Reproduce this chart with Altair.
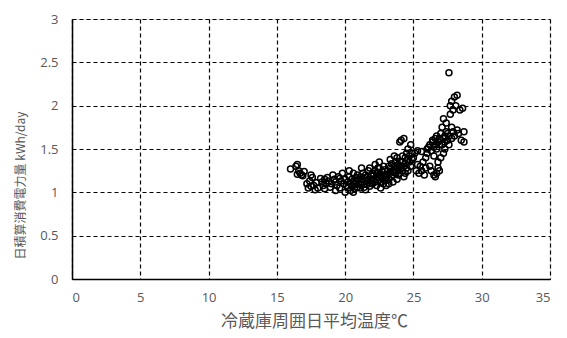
import altair as alt
import pandas as pd

temp = [
    16.0, 16.4, 16.5, 16.6, 16.7, 16.5, 16.8, 16.9, 17.0,
    17.2, 17.3, 17.4, 17.5, 17.6, 17.7, 17.8, 17.9, 17.5, 18.0,
    18.2, 18.3, 18.4, 18.5, 18.6, 18.7, 18.8, 18.9, 18.5, 19.0,
    19.1, 19.2, 19.3, 19.4, 19.5, 19.6, 19.7, 19.8, 19.9, 19.3, 19.6, 20.0,
    20.0, 20.1, 20.2, 20.2, 20.3, 20.4, 20.4, 20.5, 20.5, 20.6, 20.6, 20.7, 20.7, 20.8, 20.8, 20.9, 20.9, 21.0, 21.0, 20.3, 20.6,
    21.1, 21.1, 21.2, 21.2, 21.3, 21.3, 21.4, 21.4, 21.5, 21.5, 21.6, 21.6, 21.7, 21.7, 21.8, 21.8, 21.9, 21.9, 22.0, 22.0, 21.5, 21.2, 21.8,
    22.1, 22.1, 22.2, 22.2, 22.3, 22.3, 22.4, 22.4, 22.5, 22.5, 22.6, 22.6, 22.7, 22.7, 22.8, 22.8, 22.9, 22.9, 23.0, 23.0, 22.5, 22.2, 22.6, 23.0, 22.4, 22.8,
    23.1, 23.1, 23.2, 23.2, 23.3, 23.3, 23.4, 23.4, 23.5, 23.5, 23.6, 23.6, 23.7, 23.7, 23.8, 23.8, 23.9, 23.9, 24.0, 24.0, 23.5, 23.2, 23.8, 23.6, 23.9, 24.0, 23.3,
    24.1, 24.1, 24.2, 24.2, 24.3, 24.3, 24.4, 24.4, 24.5, 24.5, 24.6, 24.6, 24.7, 24.7, 24.8, 24.8, 24.9, 24.9, 25.0, 24.4, 24.6, 24.2, 24.0, 24.3,
    25.1, 25.2, 25.3, 25.4, 25.5, 25.6, 25.7, 25.8, 25.9, 26.0, 25.3, 25.6, 26.0, 25.9,
    26.1, 26.2, 26.2, 26.3, 26.3, 26.4, 26.4, 26.5, 26.5, 26.6, 26.6, 26.7, 26.7, 26.8, 26.8, 26.9, 26.9, 27.0, 27.0, 26.6, 26.7, 26.8, 26.5, 27.0, 26.9,
    27.1, 27.1, 27.2, 27.2, 27.3, 27.3, 27.4, 27.4, 27.5, 27.5, 27.6, 27.6, 27.7, 27.7, 27.8, 27.8, 27.9, 27.9, 28.0, 28.0, 27.3, 27.6, 27.8, 27.2,
    28.1, 28.2, 28.2, 28.3, 28.4, 28.5, 28.6, 28.7, 28.7,
]

energy = [
    1.27, 1.30, 1.32, 1.25, 1.22, 1.21, 1.20, 1.19, 1.24,
    1.10, 1.05, 1.13, 1.20, 1.17, 1.08, 1.03, 1.11, 1.07, 1.05,
    1.16, 1.12, 1.08, 1.15, 1.10, 1.17, 1.13, 1.06, 1.04, 1.10,
    1.20, 1.15, 1.12, 1.08, 1.18, 1.05, 1.13, 1.22, 1.10, 1.02, 1.16, 1.15,
    1.00, 1.08, 1.12, 1.05, 1.18, 1.10, 1.02, 1.15, 1.07, 1.22, 1.12, 1.04, 1.09, 1.17, 1.13, 1.06, 1.20, 1.10, 1.15, 1.25, 1.00,
    1.05, 1.18, 1.12, 1.08, 1.22, 1.15, 1.10, 1.06, 1.17, 1.20, 1.13, 1.09, 1.25, 1.15, 1.11, 1.07, 1.19, 1.14, 1.22, 1.10, 1.03, 1.28, 1.28,
    1.15, 1.20, 1.12, 1.25, 1.18, 1.08, 1.22, 1.14, 1.28, 1.17, 1.20, 1.11, 1.24, 1.16, 1.30, 1.19, 1.13, 1.26, 1.21, 1.17, 1.35, 1.32, 1.05, 1.08, 1.28, 1.10,
    1.25, 1.20, 1.15, 1.30, 1.22, 1.28, 1.18, 1.33, 1.24, 1.20, 1.30, 1.26, 1.35, 1.22, 1.28, 1.40, 1.25, 1.32, 1.30, 1.36, 1.12, 1.10, 1.15, 1.42, 1.20, 1.22, 1.38,
    1.28, 1.60, 1.35, 1.25, 1.62, 1.30, 1.40, 1.33, 1.45, 1.28, 1.38, 1.50, 1.35, 1.42, 1.30, 1.55, 1.38, 1.45, 1.40, 1.22, 1.25, 1.42, 1.58, 1.18,
    1.45, 1.25, 1.48, 1.22, 1.30, 1.47, 1.35, 1.20, 1.28, 1.45, 1.32, 1.25, 1.50, 1.40,
    1.52, 1.30, 1.55, 1.48, 1.25, 1.58, 1.60, 1.52, 1.20, 1.62, 1.55, 1.50, 1.65, 1.58, 1.28, 1.62, 1.55, 1.68, 1.60, 1.18, 1.22, 1.35, 1.42, 1.40, 1.25,
    1.55, 1.75, 1.62, 1.85, 1.58, 1.65, 1.80, 1.70, 1.60, 1.68, 2.38, 1.65, 2.00, 1.90, 2.05, 1.62, 1.95, 1.70, 2.10, 1.65, 1.50, 1.55, 1.75, 1.45,
    2.00, 1.72, 2.12, 1.68, 1.95, 1.60, 1.97, 1.70, 1.58,
]

df = pd.DataFrame({"temp": temp, "energy": energy})

x_ticks = [0, 5, 10, 15, 20, 25, 30, 35]
y_ticks = [0, 0.5, 1, 1.5, 2, 2.5, 3]

label_font = "Open Sans"
title_font = "Noto Sans CJK JP"
gray = "#595959"

common_axis = dict(
    labelFont=label_font,
    labelFontSize=13,
    labelColor=gray,
    ticks=False,
    domainColor="black",
    domainWidth=1.5,
    grid=True,
    gridColor="black",
    gridDash=[4, 3],
    gridWidth=1.2,
    titleFont=title_font,
    titleFontWeight="normal",
    titleColor=gray,
    titleAlign="center",
    titleBaseline="middle",
)

chart = (
    alt.Chart(df)
    .mark_point(shape="circle", filled=False, color="black", size=36, strokeWidth=1.5, opacity=1)
    .encode(
        x=alt.X(
            "temp:Q",
            scale=alt.Scale(domain=[0, 35], nice=False),
            axis=alt.Axis(
                values=x_ticks,
                title="冷蔵庫周囲日平均温度℃",
                titleFontSize=17,
                titleX=242,
                titleY=42,
                labelPadding=12,
                **common_axis,
            ),
        ),
        y=alt.Y(
            "energy:Q",
            scale=alt.Scale(domain=[0, 3], nice=False),
            axis=alt.Axis(
                values=y_ticks,
                format="~g",
                title="日積算消費電力量 kWh/day",
                titleFontSize=12,
                titleAngle=-90,
                titleX=-52,
                titleY=166,
                labelPadding=14,
                **common_axis,
            ),
        ),
    )
    .properties(width=478, height=260, autosize=alt.AutoSizeParams(type="none"))
    .configure_view(stroke="black", strokeWidth=1.5)
    .configure(padding={"left": 64, "top": 11, "right": 9, "bottom": 51})
)

chart.save("out.html", embed_options={"renderer": "svg", "actions": False})
